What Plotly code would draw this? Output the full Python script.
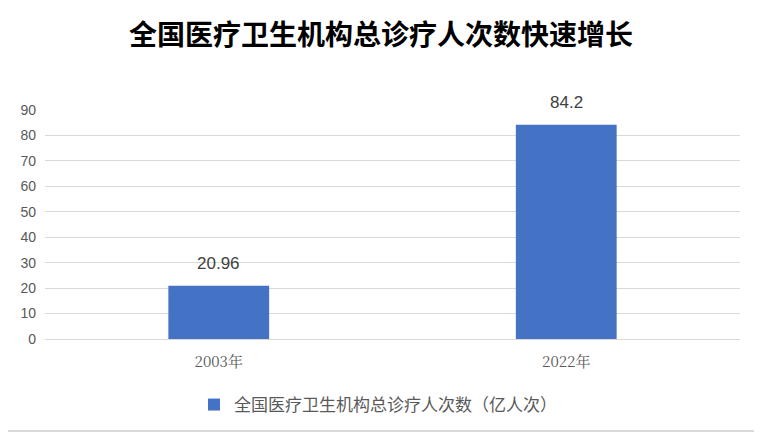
import plotly.graph_objects as go

categories = ["2003年", "2022年"]
values = [20.96, 84.2]
value_labels = ["20.96", "84.2"]
series_name = "全国医疗卫生机构总诊疗人次数（亿人次）"
title_text = "全国医疗卫生机构总诊疗人次数快速增长"
y_ticks = [0, 10, 20, 30, 40, 50, 60, 70, 80, 90]

OFF = 8  # browser body margin
W, H = 762 - OFF, 434 - OFF
L, T = 45 - OFF, 110 - OFF
R = 22
B = H - (340 - OFF)
pw, ph = W - L - R, H - T - B


def px_x(sx):
    return (sx - 45) / pw


def px_y(sy):
    return (340 - sy) / ph


fig = go.Figure()
fig.add_trace(go.Bar(
    x=categories, y=values, name=series_name,
    marker=dict(color="#4472C4", line=dict(width=0)),
    showlegend=True,
))
for c, v, t in zip(categories, values, value_labels):
    fig.add_annotation(x=c, y=v, text=t, showarrow=False, yanchor="middle", yshift=22,
                       font=dict(size=17, color="#404040", family="Liberation Sans, Arial, sans-serif"))

fig.update_layout(
    width=W, height=H,
    margin=dict(l=L, r=R, t=T, b=B),
    paper_bgcolor="white", plot_bgcolor="white",
    title=dict(text="<b>" + title_text + "</b>", x=(381 - OFF) / W, xanchor="center",
               y=1 - (35 - OFF) / H, yanchor="middle",
               font=dict(size=28, color="#000000", family="Noto Sans CJK SC, sans-serif")),
    bargap=0.71,
    xaxis=dict(showgrid=False, showline=False, ticks="", ticklabelstandoff=12,
               tickfont=dict(size=15, color="#595959", family="Noto Serif CJK SC, Noto Sans CJK SC, serif")),
    yaxis=dict(range=[0, 90], tickvals=y_ticks, showgrid=True, gridcolor="#D9D9D9", gridwidth=1,
               zeroline=True, zerolinecolor="#D9D9D9", zerolinewidth=1, showline=False, ticks="",
               ticklabelstandoff=8,
               tickfont=dict(size=14, color="#595959", family="Liberation Sans, Arial, sans-serif")),
    legend=dict(orientation="h", x=px_x(378), xanchor="center", y=px_y(405), yanchor="middle",
                font=dict(size=17, color="#595959", family="Noto Sans CJK SC, sans-serif"),
                itemwidth=30),
    shapes=[
        dict(type="line", xref="paper", yref="paper", x0=px_x(760.5), x1=px_x(760.5),
             y0=px_y(433), y1=px_y(0), line=dict(color="#D9D9D9", width=2), layer="below"),
        dict(type="line", xref="paper", yref="paper", x0=px_x(0), x1=px_x(761),
             y0=px_y(432.5), y1=px_y(432.5), line=dict(color="#D9D9D9", width=2), layer="below"),
    ],
)

fig.write_html("out.html")
